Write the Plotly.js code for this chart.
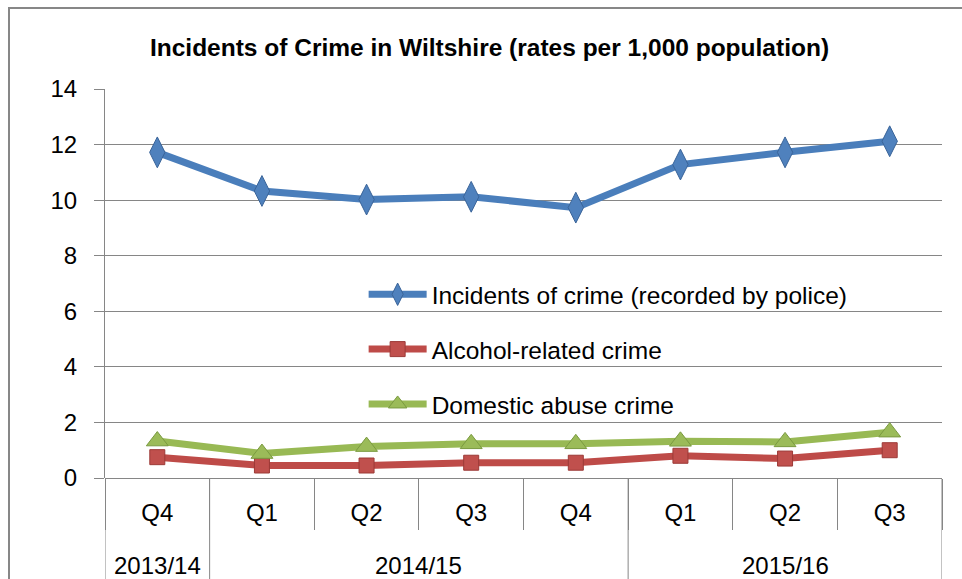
<!DOCTYPE html>
<html>
<head>
<meta charset="utf-8">
<script src="https://cdn.plot.ly/plotly-3.0.1.min.js"></script>
<style>
  html, body { margin: 0; padding: 0; background: #fff; overflow: hidden; }
  #chart { position: absolute; left: 0; top: 0; width: 962px; height: 579px; }
  #frame { position: absolute; left: 8px; top: 7px; width: 1200px; height: 1000px;
           border: 2px solid #878787; pointer-events: none; }
</style>
</head>
<body>
<div id="chart"></div>
<div id="frame"></div>
<script>
const fiscalYears = ['2013/14', '2014/15', '2014/15', '2014/15', '2014/15', '2015/16', '2015/16', '2015/16'];
const quarters    = ['Q4', 'Q1', 'Q2', 'Q3', 'Q4', 'Q1', 'Q2', 'Q3'];

const seriesNames = [
  'Incidents of crime (recorded by police)',
  'Alcohol-related crime',
  'Domestic abuse crime'
];
const incidentsOfCrime   = [11.72, 10.33, 10.02, 10.12, 9.73, 11.28, 11.72, 12.12];
const alcoholRelated     = [0.75, 0.45, 0.45, 0.55, 0.55, 0.8, 0.7, 1.0];
const domesticAbuse      = [1.33, 0.88, 1.13, 1.23, 1.23, 1.32, 1.3, 1.65];

const lineColors   = ['#4a7ebb', '#be4b48', '#98b954'];
const markerColors = ['#4f81bd', '#c0504d', '#9bbb59'];
const markerEdges  = ['#3a6499', '#9c3a37', '#7a9a40'];
const symbols      = ['diamond-tall', 'square', 'triangle-up'];
const sizes        = [22, 15, 19];
const values       = [incidentsOfCrime, alcoholRelated, domesticAbuse];

const FONT = 'Liberation Sans, Arial, sans-serif';
const GRID = '#868686';

// category positions derived from the data arrays
const idx = quarters.map((_, i) => i);
const boundaries = idx.map(i => i - 0.5).concat([quarters.length - 0.5]);
const groupNames = [], groupStart = [], groupEnd = [];
fiscalYears.forEach((y, i) => {
  if (i === 0 || y !== fiscalYears[i - 1]) { groupNames.push(y); groupStart.push(i); groupEnd.push(i); }
  else groupEnd[groupEnd.length - 1] = i;
});
const groupCenters = groupStart.map((s, k) => (s + groupEnd[k]) / 2);
const groupBounds = groupStart.map(s => s - 0.5).concat([quarters.length - 0.5]);
const xRange = [-0.5, quarters.length - 0.5];

const traces = values.map((v, i) => ({
  type: 'scatter',
  mode: 'lines+markers',
  name: seriesNames[i],
  legendgroup: 'g' + i,
  x: idx,
  y: v,
  line: { color: lineColors[i], width: 7 },
  marker: { symbol: symbols[i], size: sizes[i], color: markerColors[i],
            line: { color: markerEdges[i], width: 1 } },
  cliponaxis: false
}));

// long dividers between fiscal-year groups
const shapes = groupBounds.map(b => ({
  type: 'line', xref: 'x', yref: 'paper',
  x0: b, x1: b, y0: 0, y1: -0.3,
  line: { color: GRID, width: 1 },
  layer: 'above'
}));

// fiscal-year group labels
const annotations = groupNames.map((g, k) => ({
  text: g, xref: 'x', yref: 'paper',
  x: groupCenters[k], y: -0.2237,
  xanchor: 'center', yanchor: 'middle',
  showarrow: false,
  font: { family: FONT, size: 24, color: '#000' }
}));

const layout = {
  width: 962,
  height: 579,
  margin: { l: 105, r: 20, t: 89, b: 101 },
  paper_bgcolor: 'rgba(0,0,0,0)',
  plot_bgcolor: 'rgba(0,0,0,0)',
  font: { family: FONT, size: 24, color: '#000' },
  title: {
    text: '<b>Incidents of Crime in Wiltshire (rates per 1,000 population)</b>',
    font: { family: FONT, size: 24.5, color: '#000' },
    xref: 'container', yref: 'container',
    x: 489.5 / 962, xanchor: 'center',
    y: 1 - 47 / 579, yanchor: 'middle'
  },
  showlegend: true,
  legend: {
    x: 0.309, xanchor: 'left',
    y: 0.53, yanchor: 'top',
    bgcolor: 'rgba(0,0,0,0)',
    font: { family: FONT, size: 24.5, color: '#000' },
    itemwidth: 58,
    tracegroupgap: 20,
    traceorder: 'grouped'
  },
  shapes: shapes,
  annotations: annotations,
  xaxis: {
    range: xRange,
    tickmode: 'array',
    tickvals: idx,
    ticktext: quarters,
    showgrid: false,
    showline: false,
    zeroline: false,
    ticks: '',
    ticklabelstandoff: 18,
    tickfont: { family: FONT, size: 24, color: '#000' },
    minor: {
      tickmode: 'array',
      tickvals: boundaries,
      ticks: 'outside',
      ticklen: 51,
      tickcolor: GRID,
      tickwidth: 1,
      showgrid: false
    }
  },
  yaxis: {
    range: [0, 14],
    dtick: 2,
    tick0: 0,
    showgrid: true,
    gridcolor: GRID,
    gridwidth: 1,
    zeroline: true,
    zerolinecolor: GRID,
    zerolinewidth: 1,
    showline: true,
    linecolor: GRID,
    linewidth: 1,
    ticks: 'outside',
    ticklen: 10,
    tickcolor: GRID,
    ticklabelstandoff: 12,
    tickfont: { family: FONT, size: 24, color: '#000' }
  }
};

Plotly.newPlot('chart', traces, layout, { staticPlot: true, displayModeBar: false });
</script>
</body>
</html>
